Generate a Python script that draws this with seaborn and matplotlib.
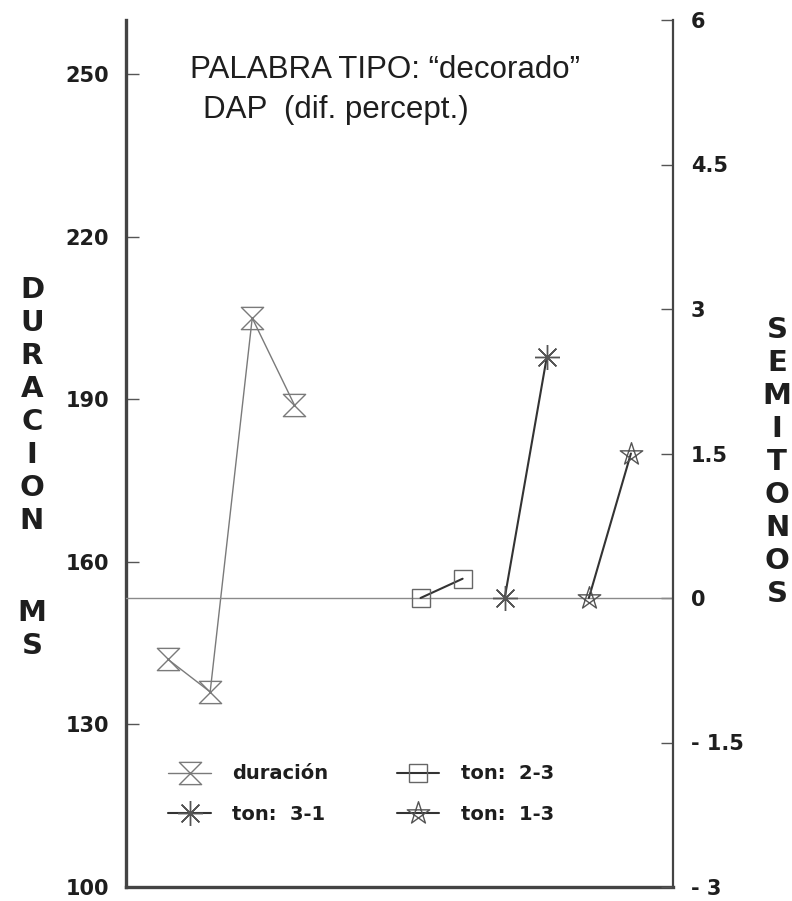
import numpy as np
import pandas as pd
import matplotlib
matplotlib.use("Agg")
import matplotlib.pyplot as plt
from matplotlib.path import Path
import seaborn as sns

# Syllable positions along the word and measured values
dur_pos = [1, 2, 3, 4]
dur_ms = [142, 136, 205, 189]

ton23_pos = [7, 8]
ton23_st = [0.0, 0.2]

ton31_pos = [9, 10]
ton31_st = [0.0, 2.5]

ton13_pos = [11, 12]
ton13_st = [0.0, 1.5]

left_ticks = [100, 130, 160, 190, 220, 250]
right_ticks = [-3, -1.5, 0, 1.5, 3, 4.5, 6]
right_tick_labels = ["- 3", "- 1.5", "0", "1.5", "3", "4.5", "6"]

title_1 = "PALABRA TIPO: \u201cdecorado\u201d"
title_2 = "DAP  (dif. percept.)"
left_label = "DURACION MS"
right_label = "SEMITONOS"

sns.set_theme(style="white")
plt.rcParams["font.family"] = ["DejaVu Sans"]

# Custom markers: hourglass and pentagram
hourglass = Path([(-1, 1), (1, 1), (-1, -1), (1, -1), (-1, 1)],
                 [Path.MOVETO, Path.LINETO, Path.LINETO, Path.LINETO, Path.CLOSEPOLY])
ang = np.pi / 2 + np.arange(5) * 2 * np.pi / 5
pts = [(np.cos(a), np.sin(a)) for a in ang]
order = [0, 2, 4, 1, 3, 0]
pentagram = Path([pts[i] for i in order],
                 [Path.MOVETO] + [Path.LINETO] * 4 + [Path.CLOSEPOLY])

fig = plt.figure(figsize=(7.92, 9.01), dpi=100)
ax = fig.add_axes([126 / 792, 14 / 901, (673 - 126) / 792, (887 - 20) / 901])
ax2 = ax.twinx()

gray = "#7a7a7a"
dark = "#333333"
txt = "#1e1e1e"

dur_df = pd.DataFrame({"pos": dur_pos, "val": dur_ms})
sns.lineplot(data=dur_df, x="pos", y="val", ax=ax, color=gray, lw=1.0,
             marker=hourglass, markersize=16, markerfacecolor="none",
             markeredgecolor=gray, markeredgewidth=1.0, label="duraci\u00f3n")

ax2.axhline(0, color="#8a8a8a", lw=1.0, zorder=1)

sns.lineplot(data=pd.DataFrame({"pos": ton31_pos, "val": ton31_st}), x="pos", y="val",
             ax=ax2, color=dark, lw=1.5, marker=(8, 2, 0), markersize=18,
             markeredgecolor="#555555", markeredgewidth=1.0, label="ton:  3-1")
sns.lineplot(data=pd.DataFrame({"pos": ton23_pos, "val": ton23_st}), x="pos", y="val",
             ax=ax2, color=dark, lw=1.5, marker="s", markersize=13,
             markerfacecolor="none", markeredgecolor="#666666", markeredgewidth=1.0,
             label="ton:  2-3")
sns.lineplot(data=pd.DataFrame({"pos": ton13_pos, "val": ton13_st}), x="pos", y="val",
             ax=ax2, color=dark, lw=1.5, marker=pentagram, markersize=17,
             markerfacecolor="none", markeredgecolor="#555555", markeredgewidth=1.0,
             label="ton:  1-3")

ax.set_xlim(0, 13)
ax.set_ylim(100, 260)
ax2.set_ylim(-3, 6)
ax.set_xticks([])
ax.set_xlabel("")
ax.set_ylabel("")
ax2.set_ylabel("")

ax.set_yticks(left_ticks)
ax.set_yticklabels([str(t) for t in left_ticks], fontweight="bold")
ax2.set_yticks(right_ticks)
ax2.set_yticklabels(right_tick_labels, fontweight="bold")

ax.tick_params(axis="y", direction="in", length=9, width=1.0, color="#555555",
               labelsize=15, pad=12, left=True, labelcolor=txt)
ax2.tick_params(axis="y", direction="in", length=9, width=1.0, color="#555555",
                labelsize=15, pad=13, right=True, labelcolor=txt)

for a in (ax, ax2):
    a.spines["top"].set_visible(False)
    a.set_facecolor("none")
ax.spines["left"].set_linewidth(2.4)
ax.spines["left"].set_color("#444444")
ax.spines["bottom"].set_linewidth(2.4)
ax.spines["bottom"].set_color("#444444")
ax2.spines["right"].set_linewidth(1.6)
ax2.spines["right"].set_color("#444444")
ax2.spines["left"].set_visible(False)
ax2.spines["bottom"].set_visible(False)

# Legend gathered from both axes
h1, l1 = ax.get_legend_handles_labels()
h2, l2 = ax2.get_legend_handles_labels()
for a in (ax, ax2):
    if a.get_legend() is not None:
        a.get_legend().remove()
hd = dict(zip(l1 + l2, h1 + h2))
order_lbl = ["duraci\u00f3n", "ton:  3-1", "ton:  2-3", "ton:  1-3"]
fig.legend([hd[k] for k in order_lbl], order_lbl, ncol=2, loc="center",
           bbox_to_anchor=(361 / 792, 1 - 794 / 901), frameon=False,
           prop={"size": 14, "weight": "bold"}, handlelength=2.2,
           handletextpad=1.1, columnspacing=3.5, labelspacing=1.1, labelcolor=txt)

# Heading inside the plot
fig.text(190 / 792, 1 - 70 / 901, title_1, fontsize=22.5, family="Liberation Sans",
         ha="left", va="center", color=txt)
fig.text(203 / 792, 1 - 110 / 901, title_2, fontsize=22.5, family="Liberation Sans",
         ha="left", va="center", color=txt)

# Stacked axis titles
def stacked(text, x, y0, step):
    y = y0
    for ch in text:
        if ch == " ":
            y += step * 1.8
            continue
        fig.text(x / 792, 1 - y / 901, ch, fontsize=21, fontweight="bold",
                 ha="center", va="center", color=txt)
        y += step

stacked(left_label, 32, 290, 33)
stacked(right_label, 777, 330, 33)

fig.savefig("out.png", dpi=100)
